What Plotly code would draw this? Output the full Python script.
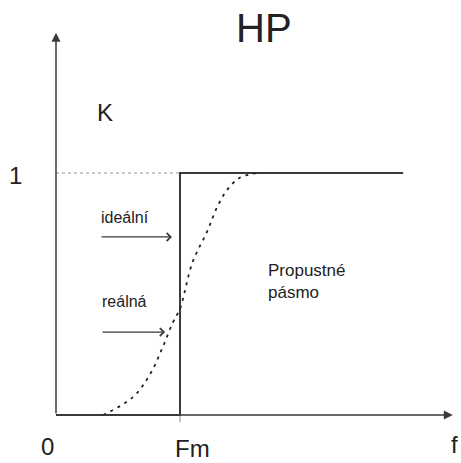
import plotly.graph_objects as go

# ideální (ideal) high-pass characteristic
ideal_f = [0, 1, 1, 2.8]
ideal_k = [0, 0, 1, 1]

real_f = [0.38, 0.62, 0.76, 0.86, 0.94, 1.0, 1.10, 1.22, 1.30, 1.38, 1.48, 1.62]
real_k = [0.0, 0.074, 0.17, 0.28, 0.38, 0.44, 0.63, 0.76, 0.86, 0.93, 0.98, 1.0]

f_max = 3.2
k_max = 1.58

LINE = "#3a3a3a"
FONT = "Liberation Sans, Arial, sans-serif"

fig = go.Figure()

# dotted guide line at K = 1
fig.add_trace(go.Scatter(x=[0, 1], y=[1, 1], mode="lines",
                         line=dict(color="#777", width=0.8, dash="dot"),
                         hoverinfo="skip"))
fig.add_trace(go.Scatter(x=ideal_f, y=ideal_k, mode="lines",
                         line=dict(color=LINE, width=2),
                         hoverinfo="skip"))
fig.add_trace(go.Scatter(x=real_f, y=real_k, mode="lines", line_shape="spline",
                         line=dict(color="#222", width=1.8, dash="3px,5px"),
                         hoverinfo="skip"))

# axes with arrowheads
fig.add_annotation(x=f_max, y=0, ax=0, ay=0, xref="x", yref="y", axref="x", ayref="y",
                   showarrow=True, arrowhead=2, arrowsize=1.2, arrowwidth=1.5,
                   arrowcolor=LINE, text="")
fig.add_annotation(x=0, y=k_max, ax=0, ay=0, xref="x", yref="y", axref="x", ayref="y",
                   showarrow=True, arrowhead=2, arrowsize=1.2, arrowwidth=1.5,
                   arrowcolor=LINE, text="")
# Fm tick
fig.add_shape(type="line", x0=1, x1=1, y0=0, y1=-0.03,
              line=dict(color="#888", width=1))

# pointer arrows
fig.add_annotation(x=0.935, y=0.736, ax=0.355, ay=0.736, xref="x", yref="y", axref="x", ayref="y",
                   showarrow=True, arrowhead=4, arrowsize=1.3, arrowwidth=1.2,
                   arrowcolor=LINE, text="")
fig.add_annotation(x=0.88, y=0.343, ax=0.363, ay=0.343, xref="x", yref="y", axref="x", ayref="y",
                   showarrow=True, arrowhead=4, arrowsize=1.3, arrowwidth=1.2,
                   arrowcolor=LINE, text="")

labels = [
    ("HP", 1.68, 1.60, 40, "center"),
    ("K", 0.395, 1.25, 24, "center"),
    ("1", -0.33, 0.99, 24, "center"),
    ("0", -0.07, -0.13, 24, "center"),
    ("Fm", 1.10, -0.14, 24, "center"),
    ("f", 3.21, -0.12, 24, "center"),
    ("ideální", 0.556, 0.818, 16, "center"),
    ("reálná", 0.556, 0.471, 16, "center"),
    ("Propustné<br>pásmo", 1.69, 0.55, 17, "left"),
]
for txt, x, y, size, anchor in labels:
    fig.add_annotation(x=x, y=y, text=txt, showarrow=False, align="left",
                       xanchor=anchor,
                       font=dict(family=FONT, size=size, color="#222"))

fig.update_layout(
    width=461, height=463,
    margin=dict(l=0, r=0, t=0, b=0),
    paper_bgcolor="white", plot_bgcolor="white",
    showlegend=False,
    xaxis=dict(range=[-0.4516, 3.266], visible=False, fixedrange=True),
    yaxis=dict(range=[-0.198, 1.715], visible=False, fixedrange=True),
)

# drop the default page margin so the figure fills the window
fig.write_html("out.html", config={"displayModeBar": False},
               post_script="document.body.style.margin='0';")
